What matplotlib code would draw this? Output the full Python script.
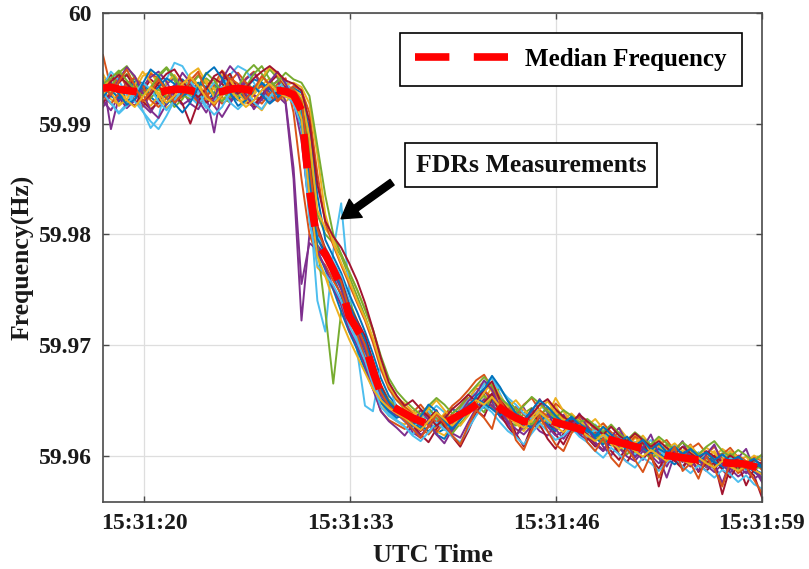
import numpy as np
import matplotlib
matplotlib.use("Agg")
import matplotlib.pyplot as plt

plt.rcParams['font.family'] = ['Liberation Serif', 'DejaVu Serif']
plt.rcParams['font.weight'] = 'bold'

# Frequencies are stored in units of 0.1 mHz above BASE_HZ
BASE_HZ = 59.95
UNIT_HZ = 1e-4

# sample times, seconds after 15:31:00
t_first, t_last, n_samples = 17.4, 59.0, 84

time_ticks = [20, 33, 46, 59]
time_labels = ['15:31:20', '15:31:33', '15:31:46', '15:31:59']
freq_ticks = [59.96, 59.97, 59.98, 59.99, 60.0]
freq_labels = ['59.96', '59.97', '59.98', '59.99', '60']

median_freq = [432, 433, 431, 430, 429, 428, 427, 428, 430, 431, 431, 430,
               428, 427, 428, 429, 431, 432, 431, 429, 428, 429, 430, 429,
               426, 412, 340, 292, 282, 268, 252, 226, 214, 201, 176, 156,
               146, 142, 138, 134, 131, 128, 126, 129, 133, 137, 141, 146,
               151, 149, 143, 138, 134, 131, 130, 131, 132, 130, 128, 126,
               124, 121, 118, 116, 114, 112, 110, 108, 106, 104, 102, 100,
               99, 98, 97, 96, 96, 95, 94, 93, 93, 92, 90, 88]

fdr_01 = [438, 425, 420, 432, 441, 436, 424, 418, 427, 435, 440, 433, 422, 419, 428, 437, 442, 434, 425, 421, 430, 438, 432, 427,
          424, 395, 318, 288, 279, 262, 244, 222, 210, 192, 170, 152, 144, 139,
          131, 126, 135, 128, 120, 124, 132, 139, 146, 152, 158, 150, 141, 137, 129, 126, 133, 138, 128, 124, 131, 127, 120,
          118, 124, 112, 109, 116, 107, 103, 110, 98, 101, 95, 104, 97, 92, 99, 94, 88, 96, 90, 86, 92, 85, 80]
fdr_02 = [428, 440, 446, 433, 421, 415, 426, 437, 431, 420, 424, 436, 444, 438, 425, 418, 423, 432, 441, 447, 436, 424, 429, 436,
          430, 418, 372, 305, 284, 270, 258, 238, 218, 206, 186, 164, 150, 143,
          140, 134, 125, 119, 127, 136, 131, 142, 150, 161, 155, 143, 136, 145, 139, 131, 125, 137, 142, 134, 126, 122, 129,
          124, 115, 120, 111, 106, 113, 118, 105, 100, 108, 102, 96, 103, 110, 98, 93, 100, 95, 89, 97, 91, 94, 87]
fdr_03 = [445, 431, 423, 419, 430, 443, 447, 435, 426, 421, 429, 441, 436, 426, 432, 444, 437, 423, 418, 426, 435, 441, 428, 420,
          426, 405, 330, 270, 262, 250, 236, 212, 198, 182, 165, 148, 136, 131,
          128, 137, 141, 133, 122, 118, 127, 135, 144, 141, 150, 162, 146, 133, 140, 128, 121, 129, 140, 145, 133, 124, 128,
          120, 126, 117, 110, 104, 112, 119, 108, 103, 97, 105, 109, 100, 94, 90, 98, 104, 93, 88, 95, 99, 90, 93]
fdr_04 = [420, 412, 425, 438, 429, 417, 410, 422, 436, 441, 430, 418, 413, 426, 392, 433, 421, 427, 440, 446, 434, 420, 425, 418,
          350, 222, 300, 290, 281, 266, 250, 228, 212, 196, 174, 150, 141, 136,
          133, 121, 116, 127, 138, 130, 122, 133, 141, 153, 160, 148, 135, 128, 134, 143, 130, 122, 118, 129, 137, 125, 119,
          114, 121, 108, 100, 111, 117, 104, 96, 107, 99, 80, 101, 94, 105, 97, 89, 93, 75, 95, 90, 84, 91, 78]
fdr_05 = [433, 427, 438, 445, 437, 428, 433, 442, 450, 439, 426, 422, 430, 441, 435, 424, 419, 428, 437, 431, 439, 449, 441, 430,
          433, 421, 380, 318, 300, 292, 280, 262, 244, 226, 205, 182, 162, 150,
          142, 135, 129, 138, 131, 123, 129, 140, 137, 147, 154, 145, 139, 131, 127, 138, 143, 134, 130, 137, 128, 121, 126,
          119, 113, 121, 114, 108, 101, 109, 104, 97, 103, 110, 100, 95, 101, 96, 90, 98, 102, 94, 88, 93, 97, 89]
fdr_06 = [426, 419, 410, 418, 430, 412, 396, 405, 440, 455, 452, 440, 425, 414, 420, 433, 444, 452, 448, 437, 425, 421, 429, 436,
          428, 410, 330, 240, 212, 285, 328, 250, 205, 190, 168, 150, 138, 132,
          126, 119, 128, 137, 145, 139, 131, 127, 138, 150, 164, 170, 156, 141, 133, 126, 135, 146, 139, 131, 125, 132, 127,
          121, 128, 120, 113, 118, 110, 104, 112, 106, 99, 104, 110, 101, 96, 103, 98, 92, 99, 104, 96, 90, 94, 91]
fdr_07 = [436, 444, 433, 421, 416, 429, 440, 434, 423, 418, 428, 437, 430, 419, 424, 439, 445, 431, 420, 415, 424, 433, 427, 432,
          429, 415, 360, 300, 283, 270, 255, 234, 219, 204, 180, 160, 147, 140,
          135, 127, 119, 112, 124, 133, 128, 137, 146, 141, 135, 152, 145, 137, 120, 108, 127, 139, 132, 119, 110, 124, 131,
          116, 108, 114, 104, 96, 109, 102, 98, 104, 72, 100, 95, 88, 100, 92, 86, 94, 65, 90, 97, 88, 82, 62]
fdr_08 = [431, 437, 429, 420, 425, 434, 431, 423, 417, 426, 435, 428, 420, 428, 436, 430, 426, 421, 432, 440, 437, 428, 423, 430,
          432, 428, 395, 335, 295, 280, 265, 246, 230, 212, 192, 170, 154, 145,
          139, 131, 124, 130, 119, 115, 126, 134, 141, 147, 143, 156, 148, 139, 132, 124, 129, 135, 127, 122, 129, 135, 126,
          122, 116, 110, 117, 111, 105, 100, 106, 110, 102, 97, 92, 98, 104, 95, 91, 97, 88, 93, 99, 92, 87, 84]
fdr_09 = [462, 432, 442, 437, 425, 430, 445, 441, 429, 422, 431, 427, 419, 423, 435, 448, 440, 429, 434, 425, 418, 427, 436, 441,
          410, 350, 300, 280, 272, 258, 246, 226, 210, 188, 162, 140, 132, 128,
          124, 129, 136, 127, 121, 130, 138, 145, 152, 147, 158, 153, 140, 134, 144, 137, 130, 126, 134, 147, 141, 129, 133,
          127, 119, 125, 115, 121, 113, 106, 114, 108, 101, 107, 98, 103, 99, 94, 101, 108, 97, 92, 100, 95, 89, 93]
fdr_10 = [430, 422, 417, 426, 433, 421, 416, 425, 437, 444, 434, 425, 430, 439, 431, 422, 427, 436, 429, 418, 412, 423, 434, 429,
          431, 425, 388, 322, 305, 295, 282, 266, 250, 232, 212, 188, 166, 152,
          143, 137, 131, 121, 129, 138, 143, 136, 149, 162, 166, 158, 147, 135, 129, 122, 131, 125, 136, 152, 140, 131, 124,
          118, 123, 129, 120, 112, 106, 116, 111, 104, 109, 100, 106, 112, 103, 98, 92, 99, 106, 101, 94, 89, 96, 100]
fdr_11 = [441, 395, 424, 414, 421, 433, 442, 447, 438, 424, 417, 422, 431, 425, 416, 406, 418, 431, 437, 426, 421, 432, 439, 420,
          360, 255, 292, 286, 278, 265, 252, 230, 215, 198, 178, 155, 145, 138,
          131, 124, 118, 126, 134, 128, 120, 116, 130, 143, 151, 145, 138, 131, 124, 119, 127, 134, 126, 118, 122, 130, 124,
          118, 110, 104, 113, 107, 99, 95, 104, 100, 93, 99, 104, 96, 90, 97, 91, 85, 92, 88, 81, 86, 79, 84]
fdr_12 = [427, 433, 446, 452, 441, 429, 423, 431, 424, 415, 422, 434, 443, 436, 427, 420, 429, 424, 433, 445, 452, 440, 431, 425,
          424, 408, 345, 290, 230, 165, 230, 240, 222, 205, 183, 162, 150, 144,
          137, 130, 136, 143, 134, 126, 120, 129, 137, 146, 139, 154, 161, 150, 142, 133, 128, 136, 144, 137, 130, 126, 132,
          125, 118, 112, 119, 113, 108, 102, 111, 107, 100, 96, 103, 99, 107, 101, 95, 89, 96, 102, 97, 93, 88, 90]
fdr_13 = [434, 447, 439, 426, 420, 411, 402, 395, 407, 421, 430, 424, 417, 428, 437, 431, 419, 413, 420, 431, 428, 422, 433, 438,
          427, 412, 350, 298, 288, 275, 262, 240, 195, 145, 140, 182, 165, 142,
          132, 125, 133, 140, 131, 123, 130, 141, 150, 157, 165, 170, 160, 152, 146, 138, 133, 140, 131, 126, 133, 128, 122,
          117, 124, 116, 121, 114, 107, 101, 108, 114, 105, 99, 102, 108, 100, 95, 103, 97, 91, 98, 93, 87, 95, 98]
fdr_14 = [419, 428, 437, 444, 433, 420, 413, 419, 431, 427, 418, 400, 420, 433, 441, 436, 428, 434, 426, 417, 425, 437, 444, 433,
          428, 418, 365, 308, 287, 273, 259, 236, 222, 208, 185, 163, 148, 141,
          136, 128, 122, 133, 141, 126, 117, 108, 122, 139, 148, 156, 138, 126, 117, 131, 142, 128, 115, 106, 120, 133, 125,
          119, 111, 105, 114, 101, 94, 106, 112, 98, 88, 101, 96, 90, 99, 85, 93, 100, 87, 80, 92, 73, 88, 94]
fdr_15 = [438, 430, 423, 429, 438, 432, 427, 433, 441, 436, 425, 429, 437, 433, 424, 428, 435, 427, 422, 429, 437, 431, 426, 431,
          429, 416, 355, 285, 268, 250, 230, 212, 196, 178, 160, 148, 140, 134,
          138, 133, 127, 122, 128, 135, 142, 138, 145, 152, 147, 142, 136, 141, 135, 129, 125, 131, 137, 132, 128, 133, 129,
          123, 117, 122, 116, 110, 106, 112, 107, 101, 106, 102, 98, 104, 100, 95, 99, 94, 90, 96, 92, 88, 93, 89]
fdr_16 = [425, 418, 427, 436, 442, 434, 421, 415, 423, 432, 437, 441, 433, 426, 419, 425, 438, 446, 437, 430, 434, 425, 420, 428,
          434, 430, 410, 355, 310, 290, 272, 255, 238, 222, 202, 178, 160, 150,
          144, 139, 146, 137, 130, 136, 145, 151, 159, 168, 173, 161, 150, 143, 137, 146, 152, 141, 135, 140, 133, 127, 135,
          130, 124, 129, 121, 115, 109, 117, 113, 106, 110, 114, 104, 99, 106, 111, 102, 96, 101, 107, 98, 93, 99, 95]
fdr_17 = [441, 429, 416, 422, 435, 447, 438, 425, 414, 420, 433, 445, 450, 437, 424, 431, 440, 428, 419, 427, 441, 451, 444, 435,
          437, 433, 418, 372, 318, 292, 274, 258, 240, 224, 206, 182, 163, 152,
          147, 140, 134, 142, 150, 141, 133, 127, 136, 148, 157, 166, 154, 144, 150, 141, 135, 142, 149, 139, 132, 138, 131,
          127, 133, 124, 118, 125, 116, 111, 118, 109, 115, 106, 111, 104, 109, 100, 107, 102, 96, 104, 98, 94, 100, 96]
fdr_18 = [415, 426, 440, 451, 443, 428, 412, 405, 418, 432, 446, 437, 421, 410, 423, 440, 452, 444, 427, 413, 422, 438, 447, 436,
          420, 385, 322, 285, 270, 252, 236, 214, 200, 182, 160, 140, 131, 125,
          118, 128, 141, 132, 119, 111, 124, 138, 149, 156, 168, 159, 144, 129, 118, 126, 140, 151, 139, 124, 115, 126, 138,
          126, 112, 104, 117, 125, 111, 98, 107, 119, 101, 90, 104, 113, 96, 86, 101, 110, 92, 84, 98, 106, 88, 76]
fdr_19 = [436, 441, 448, 439, 431, 425, 432, 444, 451, 442, 431, 426, 434, 446, 439, 428, 424, 433, 446, 453, 445, 434, 438, 446,
          440, 437, 425, 380, 335, 300, 282, 266, 250, 232, 214, 190, 170, 158,
          150, 143, 137, 145, 152, 146, 138, 144, 155, 163, 171, 163, 152, 146, 139, 145, 153, 147, 140, 134, 141, 136, 130,
          133, 127, 121, 128, 120, 114, 121, 115, 110, 117, 111, 105, 112, 106, 101, 108, 113, 104, 99, 105, 100, 95, 101]
fdr_20 = [428, 418, 409, 416, 427, 437, 431, 420, 412, 421, 432, 438, 429, 416, 408, 415, 428, 436, 430, 419, 413, 424, 433, 426,
          418, 398, 312, 272, 264, 254, 240, 218, 203, 186, 164, 144, 136, 131,
          126, 118, 113, 121, 130, 124, 117, 112, 124, 136, 145, 139, 130, 122, 117, 110, 120, 129, 122, 114, 118, 125, 117,
          112, 104, 98, 107, 101, 94, 89, 98, 93, 86, 94, 99, 90, 84, 91, 86, 80, 87, 83, 76, 82, 74, 70]
fdr_21 = [430, 438, 444, 436, 428, 420, 426, 437, 445, 449, 438, 430, 424, 431, 443, 447, 436, 427, 432, 441, 447, 452, 446, 439,
          436, 430, 402, 345, 312, 298, 288, 274, 258, 238, 214, 188, 166, 154,
          145, 150, 142, 135, 127, 133, 142, 148, 155, 149, 160, 167, 150, 141, 135, 129, 137, 146, 151, 142, 135, 130, 137,
          131, 125, 119, 126, 118, 113, 120, 114, 108, 113, 107, 101, 108, 102, 97, 104, 99, 94, 100, 95, 91, 96, 92]
fdr_22 = [424, 433, 427, 417, 422, 436, 449, 443, 431, 418, 410, 419, 433, 445, 451, 441, 428, 416, 421, 434, 426, 418, 424, 432,
          425, 402, 340, 296, 282, 268, 254, 236, 220, 204, 182, 160, 148, 140,
          134, 127, 135, 146, 140, 131, 124, 132, 141, 154, 160, 172, 162, 149, 138, 132, 141, 150, 144, 136, 129, 135, 128,
          124, 118, 126, 119, 112, 117, 109, 114, 105, 111, 103, 108, 101, 106, 99, 103, 96, 101, 95, 99, 93, 97, 90]
fdr_23 = [433, 426, 438, 449, 434, 420, 429, 440, 431, 419, 426, 439, 447, 428, 416, 427, 441, 436, 422, 431, 443, 435, 421, 428,
          431, 420, 362, 305, 286, 271, 257, 232, 216, 200, 176, 157, 145, 138,
          132, 124, 116, 126, 137, 129, 118, 110, 127, 141, 134, 124, 150, 138, 114, 105, 123, 136, 122, 110, 104, 120, 128,
          112, 104, 116, 98, 90, 106, 96, 85, 101, 80, 96, 108, 86, 93, 79, 99, 88, 72, 94, 84, 90, 78, 66]
fdr_24 = [427, 435, 430, 421, 415, 424, 433, 428, 419, 425, 436, 442, 434, 423, 418, 426, 431, 422, 415, 421, 430, 436, 429, 424,
          422, 404, 336, 280, 262, 240, 222, 205, 190, 175, 160, 150, 143, 138,
          134, 128, 123, 131, 139, 133, 127, 135, 143, 150, 146, 153, 144, 136, 130, 125, 132, 139, 133, 126, 121, 128, 123,
          118, 113, 119, 112, 106, 110, 104, 99, 105, 100, 95, 101, 96, 92, 98, 93, 89, 95, 90, 86, 91, 87, 83]

fdr_units = [fdr_01, fdr_02, fdr_03, fdr_04, fdr_05, fdr_06, fdr_07, fdr_08,
             fdr_09, fdr_10, fdr_11, fdr_12, fdr_13, fdr_14, fdr_15, fdr_16,
             fdr_17, fdr_18, fdr_19, fdr_20, fdr_21, fdr_22, fdr_23, fdr_24]

line_colors = ['#0072BD', '#D95319', '#EDB120', '#7E2F8E',
               '#77AC30', '#4DBEEE', '#A2142F']


def to_hz(values):
    return BASE_HZ + np.asarray(values, dtype=float) * UNIT_HZ


t = np.linspace(t_first, t_last, n_samples)

fig = plt.figure(figsize=(8.09, 5.69), dpi=100)
ax = fig.add_axes([0.1273, 0.1178, 0.8146, 0.8594])

for k, unit in enumerate(fdr_units):
    ax.plot(t, to_hz(unit), color=line_colors[k % len(line_colors)],
            lw=1.4, zorder=2)

ax.plot(t, to_hz(median_freq), color='#FF0000', lw=5.5, dashes=(4.5, 3.2),
        solid_capstyle='butt', dash_capstyle='butt', zorder=4,
        label='Median Frequency')

ax.set_xlim(t_first, t_last)
ax.set_ylim(59.9558, 60.0)
ax.set_xticks(time_ticks)
ax.set_xticklabels(time_labels)
ax.set_yticks(freq_ticks)
ax.set_yticklabels(freq_labels)

ax.grid(True, color='#dedede', lw=0.9, zorder=0)
ax.set_axisbelow(True)
for sp in ax.spines.values():
    sp.set_color('#4a4a4a')
    sp.set_linewidth(1.2)
ax.tick_params(direction='in', length=4, width=1.0, color='#4a4a4a',
               top=True, right=True, labelsize=17, labelcolor='#1a1a1a')
ax.tick_params(axis='y', pad=8)
ax.tick_params(axis='x', pad=8)

ax.set_xlabel('UTC Time', fontsize=19, fontweight='bold', color='#1a1a1a',
              labelpad=7)
ax.set_ylabel('Frequency(Hz)', fontsize=18.5, fontweight='bold',
              color='#1a1a1a', labelpad=3)

leg = ax.legend(loc='upper right', fontsize=18, frameon=True, fancybox=False,
                edgecolor='black', framealpha=1, borderaxespad=0.8,
                handlelength=3.7, handletextpad=0.7, borderpad=0.6)
leg.get_frame().set_linewidth(1.2)

ax.text(0.6495, 0.689, 'FDRs Measurements', transform=ax.transAxes,
        fontsize=18.5, fontweight='bold', color='#111111',
        ha='center', va='center', zorder=6,
        bbox=dict(boxstyle='square,pad=0.4', fc='white', ec='black', lw=1.2))

ax.annotate('', xy=(32.43, 59.9814), xytext=(35.65, 59.9847),
            xycoords='data', textcoords='data', zorder=6,
            arrowprops=dict(facecolor='black', edgecolor='black',
                            width=5, headwidth=16, headlength=13, shrink=0))

fig.savefig('out.png', dpi=100, facecolor='white')
